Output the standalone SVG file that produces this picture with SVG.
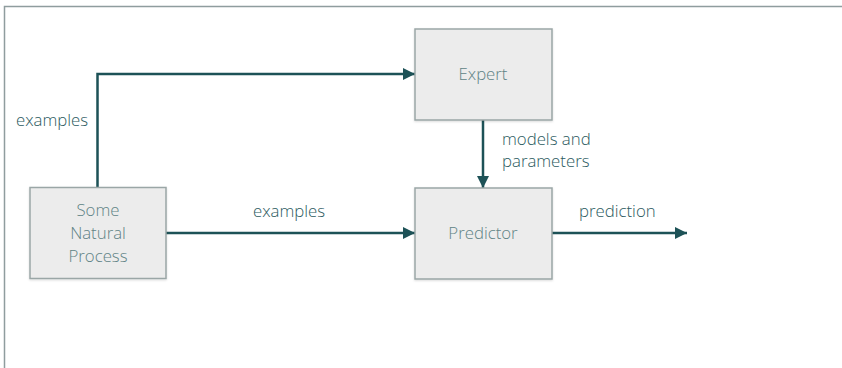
<svg xmlns="http://www.w3.org/2000/svg" width="842" height="368" viewBox="0 0 842 368">
  <style>
    .frame { fill: none; stroke: #8f9d9e; stroke-width: 1.5; }
    .box { fill: #ececec; stroke: #9aa6a6; stroke-width: 1.5; }
    .boxtext { font-family: "Open Sans", "Liberation Sans", sans-serif; font-weight: 300; font-size: 16.8px; fill: #5f8385; text-anchor: middle; }
    .label { font-family: "Open Sans", "Liberation Sans", sans-serif; font-weight: 300; font-size: 16.8px; fill: #2b5a5e; }
    .wire { fill: none; stroke: #1d5257; stroke-width: 2.5; marker-end: url(#head); }
  </style>
  <defs>
    <marker id="head" viewBox="0 0 12 12" refX="12" refY="6" markerWidth="12" markerHeight="12" markerUnits="userSpaceOnUse" orient="auto">
      <path d="M0,0 L12,6 L0,12 Z" fill="#1d5257"/>
    </marker>
    <filter id="shadow" x="-5%" y="-5%" width="110%" height="115%">
      <feDropShadow dx="0" dy="1" stdDeviation="1" flood-color="#000" flood-opacity="0.15"/>
    </filter>
  </defs>

  <rect width="842" height="368" fill="#ffffff"/>
  <path class="frame" d="M4.5,368 V6.5 H842"/>

  <g id="connectors">
    <path class="wire" d="M97.5,187 V74 H415"/>
    <path class="wire" d="M166,233 H415"/>
    <path class="wire" d="M483,120 V188"/>
    <path class="wire" d="M552,233 H687"/>
    <text class="label" x="16" y="126">examples</text>
    <text class="label" x="253" y="217">examples</text>
    <text class="label" x="502" y="145">models and</text>
    <text class="label" x="502" y="167">parameters</text>
    <text class="label" x="579" y="217">prediction</text>
  </g>

  <g id="natural-process">
    <rect class="box" x="30" y="187.5" width="136" height="91" filter="url(#shadow)"/>
    <text class="boxtext" x="98" y="216">Some</text>
    <text class="boxtext" x="98" y="239">Natural</text>
    <text class="boxtext" x="98" y="262">Process</text>
  </g>

  <g id="expert">
    <rect class="box" x="415" y="29" width="137" height="91" filter="url(#shadow)"/>
    <text class="boxtext" x="483" y="80">Expert</text>
  </g>

  <g id="predictor">
    <rect class="box" x="415" y="188" width="137" height="91" filter="url(#shadow)"/>
    <text class="boxtext" x="483" y="239">Predictor</text>
  </g>
</svg>
